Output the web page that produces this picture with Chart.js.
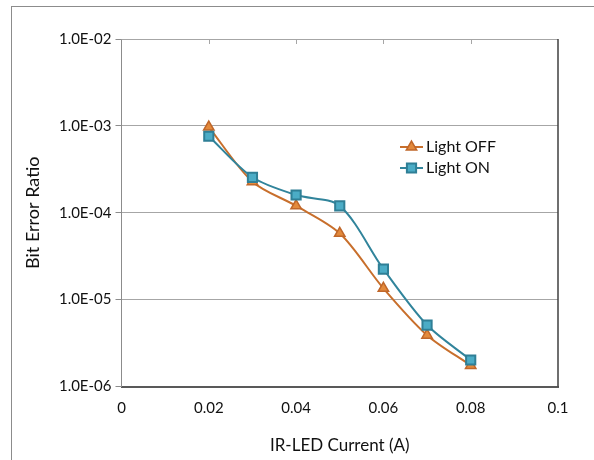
<!DOCTYPE html>
<html lang="en">
<head>
    <meta charset="UTF-8">
    <title>Bit Error Ratio vs IR-LED Current</title>
    <script src="https://cdn.jsdelivr.net/npm/chart.js@4"></script>
    <style>
        body {
            margin: 0;
            padding: 0;
            background: #fff;
            overflow: hidden;
        }
        #wrap {
            position: relative;
            width: 594px;
            height: 460px;
        }
        /* outer chart frame, only left and top edges fall inside the picture */
        #frame {
            position: absolute;
            left: 11px;
            top: 6px;
            width: 700px;
            height: 600px;
            border-left: 1px solid #8c8c8c;
            border-top: 1px solid #8c8c8c;
            pointer-events: none;
        }
    </style>
</head>
<body>
<div id="wrap">
    <canvas id="berChart" width="594" height="460"></canvas>
    <div id="frame"></div>
</div>

<script>
    // Data
    const currents = [0.02, 0.03, 0.04, 0.05, 0.06, 0.07, 0.08];
    const berLightOff = [9.7e-4, 2.28e-4, 1.2e-4, 5.8e-5, 1.35e-5, 3.9e-6, 1.75e-6];
    const berLightOn = [7.6e-4, 2.56e-4, 1.6e-4, 1.2e-4, 2.25e-5, 5.1e-6, 2.02e-6];
    const seriesNames = ['Light OFF', 'Light ON'];
    const yTickValues = [1e-6, 1e-5, 1e-4, 1e-3, 1e-2];
    const yTickLabels = ['1.0E-06', '1.0E-05', '1.0E-04', '1.0E-03', '1.0E-02'];
    const xTickValues = [0, 0.02, 0.04, 0.06, 0.08, 0.1];
    const xTickLabels = ['0', '0.02', '0.04', '0.06', '0.08', '0.1'];

    const FONT = 'Lato, "Open Sans", sans-serif';
    const TEXT = '#111';

    // Draws top/right plot border, small inward ticks on top edge, and the legend
    const framePlugin = {
        id: 'frame',
        afterDraw(chart) {
            const { ctx, chartArea: a } = chart;
            const xs = chart.scales.x;
            ctx.save();
            // top edge (gray)
            ctx.strokeStyle = '#a6a6a6';
            ctx.lineWidth = 1;
            ctx.beginPath();
            ctx.moveTo(a.left, a.top + 0.5);
            ctx.lineTo(a.right, a.top + 0.5);
            ctx.stroke();
            // small tick marks on the top edge
            xTickValues.slice(1, -1).forEach(v => {
                const px = Math.round(xs.getPixelForValue(v)) + 0.5;
                ctx.beginPath();
                ctx.moveTo(px, a.top);
                ctx.lineTo(px, a.top + 5);
                ctx.stroke();
            });
            // right edge (dark)
            ctx.strokeStyle = '#3f3f3f';
            ctx.lineWidth = 1.5;
            ctx.beginPath();
            ctx.moveTo(a.right, a.top);
            ctx.lineTo(a.right, a.bottom);
            ctx.stroke();

            // legend
            const lx = 400, ly = 147, gap = 21;
            chart.data.datasets.forEach((ds, i) => {
                const y = ly + i * gap;
                ctx.strokeStyle = ds.borderColor;
                ctx.lineWidth = ds.borderWidth;
                ctx.beginPath();
                ctx.moveTo(lx, y);
                ctx.lineTo(lx + 23, y);
                ctx.stroke();
                ctx.fillStyle = ds.pointBackgroundColor;
                ctx.strokeStyle = ds.pointBorderColor;
                ctx.lineWidth = ds.pointBorderWidth;
                Chart.helpers.drawPoint(ctx, {
                    pointStyle: ds.pointStyle,
                    radius: ds.pointRadius,
                    borderWidth: ds.pointBorderWidth
                }, lx + 11.5, y);
                ctx.fillStyle = TEXT;
                ctx.font = '16px ' + FONT;
                ctx.textBaseline = 'middle';
                ctx.fillText(ds.label, lx + 26, y);
            });
            ctx.restore();
        }
    };

    const ctx = document.getElementById('berChart').getContext('2d');
    new Chart(ctx, {
        type: 'line',
        data: {
            datasets: [
                {
                    label: seriesNames[0],
                    data: currents.map((c, i) => ({ x: c, y: berLightOff[i] })),
                    borderColor: '#c86f2c',
                    borderWidth: 2,
                    pointStyle: 'triangle',
                    pointRadius: 6,
                    pointBackgroundColor: '#e38a3c',
                    pointBorderColor: '#c0672a',
                    pointBorderWidth: 1.5,
                    tension: 0.3,
                    order: 2
                },
                {
                    label: seriesNames[1],
                    data: currents.map((c, i) => ({ x: c, y: berLightOn[i] })),
                    borderColor: '#31849b',
                    borderWidth: 2,
                    pointStyle: 'rect',
                    pointRadius: 6.5,
                    pointBackgroundColor: '#4bacc6',
                    pointBorderColor: '#2f7f96',
                    pointBorderWidth: 2,
                    tension: 0.3,
                    order: 1
                }
            ]
        },
        options: {
            responsive: false,
            animation: false,
            layout: {
                padding: { top: 39, right: 36, left: 22, bottom: 0 }
            },
            plugins: {
                legend: { display: false },
                tooltip: { enabled: false }
            },
            scales: {
                x: {
                    type: 'linear',
                    min: 0,
                    max: 0.1,
                    afterBuildTicks: scale => {
                        scale.ticks = xTickValues.map(v => ({ value: v }));
                    },
                    afterFit: scale => { scale.height = 73.5; },
                    grid: { drawOnChartArea: false, drawTicks: false },
                    border: { color: '#595959', width: 2 },
                    ticks: {
                        padding: 13,
                        color: TEXT,
                        font: { family: FONT, size: 15 },
                        callback: (v, i) => xTickLabels[i]
                    },
                    title: {
                        display: true,
                        text: 'IR-LED Current (A)',
                        color: TEXT,
                        font: { family: FONT, size: 17 },
                        padding: { top: 8 }
                    }
                },
                y: {
                    type: 'logarithmic',
                    min: 1e-6,
                    max: 1e-2,
                    afterBuildTicks: scale => {
                        scale.ticks = yTickValues.map(v => ({ value: v }));
                    },
                    afterFit: scale => { scale.width = 99.5; },
                    grid: {
                        color: '#a6a6a6',
                        lineWidth: 1,
                        tickLength: 6,
                        tickColor: '#8c8c8c'
                    },
                    border: { color: '#8c8c8c', width: 1 },
                    ticks: {
                        padding: 4,
                        color: TEXT,
                        font: { family: FONT, size: 15 },
                        callback: (v, i) => yTickLabels[i]
                    },
                    title: {
                        display: true,
                        text: 'Bit Error Ratio',
                        color: TEXT,
                        font: { family: FONT, size: 18 },
                        padding: { top: 0, bottom: 0 }
                    }
                }
            }
        },
        plugins: [framePlugin]
    });
</script>
</body>
</html>
